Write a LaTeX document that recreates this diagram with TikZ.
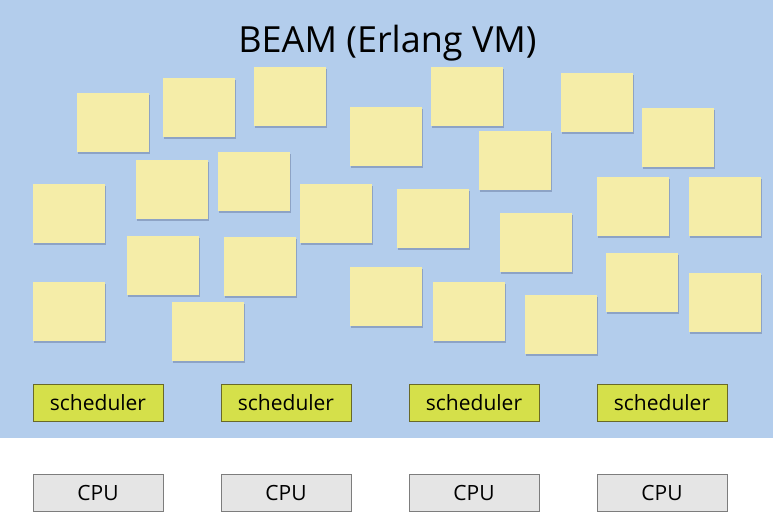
\documentclass[tikz,border=0pt]{standalone}
\usepackage{fontspec}
\setmainfont{Open Sans}
\usetikzlibrary{shadows}
\definecolor{BeamBlue}{RGB}{179,205,236}
\definecolor{NoteYellow}{RGB}{245,237,168}
\definecolor{ShadowBlue}{RGB}{110,130,165}
\definecolor{SchedGreen}{RGB}{213,224,74}
\definecolor{SchedBorder}{RGB}{105,105,40}
\definecolor{CpuGray}{RGB}{229,229,229}
\definecolor{CpuBorder}{RGB}{125,125,125}

\begin{document}
\begin{tikzpicture}[
  x=1pt, y=-1pt,
  note/.style={rectangle, fill=NoteYellow, minimum width=72pt,
               minimum height=59pt, inner sep=0pt, anchor=north west,
               drop shadow={shadow xshift=0.6pt, shadow yshift=-2pt,
                            fill=ShadowBlue, opacity=0.55}},
  unitbox/.style={rectangle, minimum width=130pt, minimum height=37pt,
                  inner sep=0pt, line width=0.9pt,
                  font=\fontsize{21}{24}\selectfont},
  sched/.style={unitbox, fill=SchedGreen, draw=SchedBorder},
  cpu/.style={unitbox, fill=CpuGray, draw=CpuBorder},
]

\useasboundingbox (0,0) rectangle (773,512);
\fill[BeamBlue] (0,0) rectangle (773,438);

\node[font=\fontsize{36}{42}\selectfont] (beam) at (387.5,43) {BEAM (Erlang VM)};

\foreach \px/\py [count=\i] in {77/93, 163/78, 254/67, 350/107, 136/160,
    218/152, 33/184, 300/184, 127/236, 224/237, 33/282, 172/302, 350/267,
    431/67, 561/73, 479/131, 642/108, 397/189, 597/177, 689/177,
    500/213, 433/282, 525/295, 606/253, 689/273}
  \node[note] (note\i) at (\px,\py) {};

\foreach \cx [count=\i] in {98, 286, 474, 662} {
  \node[sched] (sched\i) at (\cx,402.5) {scheduler};
  \node[cpu]   (cpu\i)   at (\cx,493)   {CPU};
}

\end{tikzpicture}
\end{document}
